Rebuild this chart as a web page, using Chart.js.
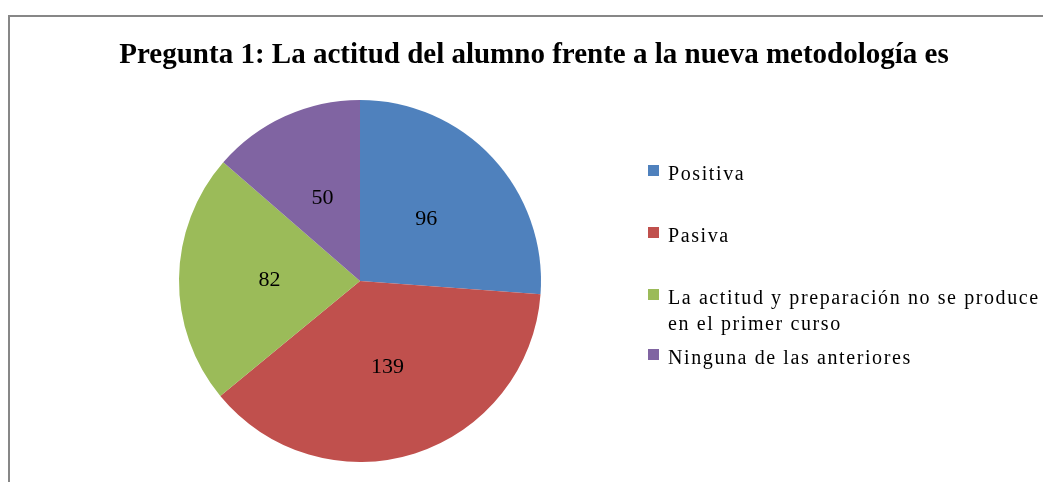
<!DOCTYPE html>
<html>
<head>
<meta charset="utf-8">
<script src="https://cdn.jsdelivr.net/npm/chart.js@4/dist/chart.umd.min.js"></script>
<style>
    html, body { margin: 0; padding: 0; background: #fff; }
    #wrap { width: 1043px; height: 482px; position: relative; }
</style>
</head>
<body>
<div id="wrap"><canvas id="pieChart" width="1043" height="482"></canvas></div>
<script>
const chartTitle = "Pregunta 1: La actitud del alumno frente a la nueva metodología es";
const categories = [
    "Positiva",
    "Pasiva",
    ["La actitud y preparación no se produce", "en el primer curso"],
    "Ninguna de las anteriores"
];
const answers = [96, 139, 82, 50];
const sliceColors = ["#4F81BD", "#C0504D", "#9BBB59", "#8064A2"];

const serif = "'Liberation Serif', 'Times New Roman', serif";

// marco, título, etiquetas y leyenda dibujados a mano
const decorPlugin = {
    id: "decor",
    beforeDraw(chart) {
        const ctx = chart.ctx;
        ctx.save();
        ctx.strokeStyle = "#878787";
        ctx.lineWidth = 2;
        ctx.beginPath();
        ctx.moveTo(1043, 16);
        ctx.lineTo(9, 16);
        ctx.lineTo(9, 482);
        ctx.stroke();
        ctx.restore();
    },
    afterDraw(chart) {
        const ctx = chart.ctx;
        ctx.save();
        ctx.fillStyle = "#000";
        ctx.font = "bold 29px " + serif;
        ctx.textAlign = "center";
        ctx.textBaseline = "alphabetic";
        ctx.fillText(chartTitle, 534, 63);

        // valores dentro de cada porción
        ctx.font = "22px " + serif;
        ctx.textBaseline = "middle";
        const meta = chart.getDatasetMeta(0);
        meta.data.forEach(function (arc, i) {
            const p = arc.getCenterPoint();
            ctx.fillText(String(answers[i]), p.x, p.y);
        });

        // leyenda
        ctx.textAlign = "left";
        ctx.textBaseline = "alphabetic";
        ctx.font = "20px " + serif;
        ctx.letterSpacing = "1.6px";
        const baselines = [180, 242, 304, 364];
        categories.forEach(function (label, i) {
            const lines = Array.isArray(label) ? label : [label];
            const y = baselines[i];
            ctx.fillStyle = sliceColors[i];
            ctx.fillRect(648, y - 15, 11, 11);
            ctx.fillStyle = "#000";
            lines.forEach(function (line, j) {
                ctx.fillText(line, 668, y + j * 26);
            });
        });
        ctx.restore();
    }
};

new Chart(document.getElementById("pieChart").getContext("2d"), {
    type: "pie",
    data: {
        labels: categories,
        datasets: [{
            data: answers,
            backgroundColor: sliceColors,
            borderWidth: 0
        }]
    },
    options: {
        responsive: false,
        animation: false,
        layout: { padding: { left: 179, right: 502, top: 100, bottom: 20 } },
        plugins: {
            legend: { display: false },
            title: { display: false },
            tooltip: { enabled: false }
        }
    },
    plugins: [decorPlugin]
});
</script>
</body>
</html>
